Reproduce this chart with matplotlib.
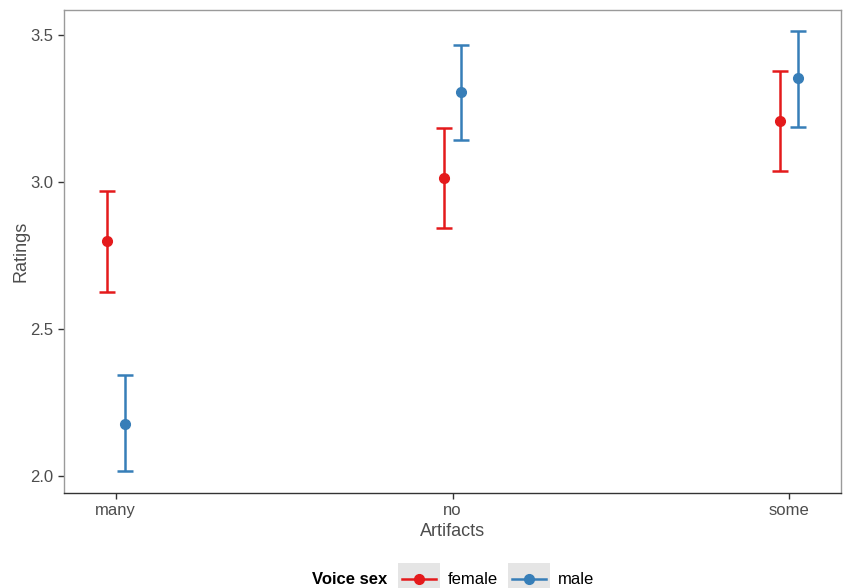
import matplotlib
matplotlib.use("Agg")
import matplotlib.pyplot as plt
from matplotlib.lines import Line2D
from matplotlib.patches import Rectangle
import numpy as np

plt.rcParams["font.family"] = ["Liberation Sans", "DejaVu Sans"]

# Daten
categories = ["many", "no", "some"]
groups = ["female", "male"]
colors = {"female": "#E41A1C", "male": "#377EB8"}

mean_female = [2.800, 3.014, 3.208]
low_female = [2.627, 2.845, 3.038]
high_female = [2.970, 3.185, 3.378]

mean_male = [2.178, 3.306, 3.353]
low_male = [2.018, 3.143, 3.187]
high_male = [2.342, 3.467, 3.514]

W, H = 843, 588
fig = plt.figure(figsize=(W / 100, H / 100), dpi=100)
ax = fig.add_axes([64 / W, 1 - 493 / H, 777 / W, 483 / H])

x = np.arange(1, len(categories) + 1)
dodge = 0.026
series = {
    "female": (mean_female, low_female, high_female, -dodge),
    "male": (mean_male, low_male, high_male, dodge),
}
for g in groups:
    m, lo, hi, off = series[g]
    m = np.array(m)
    yerr = [m - np.array(lo), np.array(hi) - m]
    ax.errorbar(x + off, m, yerr=yerr, fmt="o", color=colors[g], ms=7,
                elinewidth=1.8, capsize=6, capthick=1.8, zorder=3)

ax.set_xlim(0.846, 3.154)
ax.set_ylim(1.942, 3.585)
ax.set_xticks(x)
ax.set_xticklabels(categories)
ax.set_yticks([2.0, 2.5, 3.0, 3.5])
ax.set_yticklabels(["2.0", "2.5", "3.0", "3.5"])
ax.tick_params(colors="#333333", labelcolor="#4d4d4d", labelsize=12, length=4, width=1)

for side in ["top", "right", "left"]:
    ax.spines[side].set_color("#9a9a9a")
    ax.spines[side].set_linewidth(1)
ax.spines["bottom"].set_color("#333333")
ax.spines["bottom"].set_linewidth(1)

ax.set_xlabel("Artifacts", fontsize=13, color="#4d4d4d", labelpad=3)
ax.set_ylabel("Ratings", fontsize=13, color="#4d4d4d", labelpad=1)

# Legende unten, von Hand gebaut
def fx(px):
    return px / W

def fy(py):
    return 1 - py / H

fig.text(fx(312), fy(579), "Voice sex", fontsize=12, fontweight="bold",
         va="center", ha="left")
key_x = {"female": 398, "male": 508}
for g in groups:
    kx = key_x[g]
    fig.add_artist(Rectangle((fx(kx), fy(600)), 42 / W, 37 / H,
                             transform=fig.transFigure, facecolor="#e5e5e5",
                             edgecolor="none"))
    fig.add_artist(Line2D([fx(kx + 4), fx(kx + 38)], [fy(579), fy(579)],
                          transform=fig.transFigure, color=colors[g], lw=1.8,
                          marker=None))
    fig.add_artist(Line2D([fx(kx + 21)], [fy(579)], transform=fig.transFigure,
                          color=colors[g], marker="o", ms=7, ls="none"))
    fig.text(fx(kx + 50), fy(579), g, fontsize=12, va="center", ha="left")

fig.savefig("out.png", dpi=100)
